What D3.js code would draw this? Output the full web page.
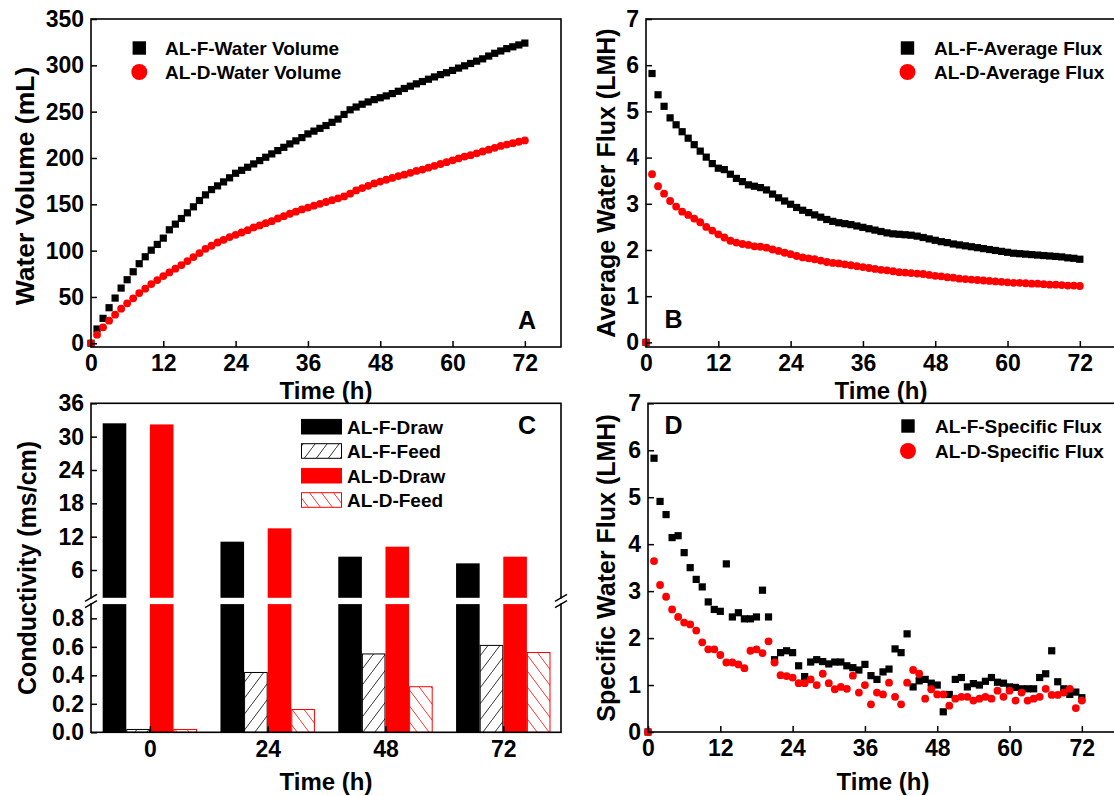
<!DOCTYPE html>
<html><head><meta charset="utf-8">
<script src="https://cdn.jsdelivr.net/npm/d3@7"></script>
<style>body{margin:0;background:#fff}svg{display:block}</style>
</head><body>
<svg id="c" width="1114" height="796"></svg>
<script>
// ---------- DATA ----------
const hours = d3.range(0, 73); // sampling times 0..72 h (hourly)
const volF = [0,15.4,26.9,38.4,48.8,59.6,68.6,77.2,85.9,93.4,100.5,106.7,113.5,122.5,128.6,134.7,140.8,147.3,154.1,160.2,165.9,169.9,174.2,178.6,183.5,186.7,190,193.6,197.2,200.8,204.4,208,211.5,215.2,218.5,222,226,229,232,235,238.5,242,247,252,255,258,260.5,263,265,267,269.5,272,275,277.5,280,282.5,285,287.5,290,292,294.5,297,299.5,302,304.5,307,310,313,315.5,318,320,322,324];
const volD = [0,9.3,17.2,24.4,30.9,37.4,43.1,48.5,54.2,58.9,63.9,68.2,72.5,76.5,80.5,84.4,88.7,93.0,97.3,102,105.3,108.8,111.7,114.6,117.1,119.6,122.1,125,127.2,129.6,131.8,134.7,137.2,139.8,142,144.5,146.5,148.5,150.5,152.5,154.5,156.5,158.5,161.5,165,167.5,170,172.5,174.5,176.5,178.5,180.5,182,184,186,187.5,189.5,191.5,193.5,195.5,197.5,199.5,201.5,203,205,207,209,211,213,214.5,216,217.5,219];
const avgF = [0,5.82,5.36,5.11,4.86,4.71,4.56,4.42,4.28,4.14,4.01,3.87,3.77,3.74,3.64,3.55,3.48,3.41,3.38,3.35,3.30,3.21,3.13,3.06,2.99,2.92,2.86,2.81,2.76,2.71,2.66,2.62,2.59,2.57,2.55,2.52,2.49,2.46,2.43,2.40,2.37,2.35,2.34,2.33,2.32,2.30,2.27,2.24,2.21,2.18,2.16,2.13,2.11,2.09,2.07,2.05,2.03,2.01,1.99,1.97,1.95,1.93,1.92,1.91,1.90,1.89,1.88,1.87,1.86,1.85,1.83,1.82,1.80];
const avgD = [0,3.64,3.38,3.22,3.06,2.94,2.83,2.76,2.68,2.60,2.50,2.42,2.34,2.27,2.20,2.16,2.13,2.11,2.08,2.07,2.05,2.01,1.98,1.94,1.91,1.87,1.84,1.82,1.80,1.77,1.74,1.72,1.71,1.69,1.67,1.65,1.63,1.61,1.59,1.57,1.56,1.54,1.52,1.51,1.50,1.49,1.48,1.46,1.44,1.43,1.41,1.40,1.38,1.37,1.36,1.35,1.34,1.33,1.32,1.31,1.30,1.29,1.29,1.28,1.27,1.27,1.26,1.25,1.25,1.24,1.23,1.23,1.22];
const specF = [0,5.83,4.91,4.63,4.14,4.18,3.82,3.50,3.25,3.09,2.77,2.61,2.57,3.58,2.45,2.54,2.41,2.41,2.45,3.02,2.45,1.54,1.69,1.73,1.69,1.41,1.18,1.49,1.54,1.50,1.45,1.49,1.49,1.41,1.37,1.32,1.44,1.20,1.12,1.28,1.34,1.77,1.69,2.09,0.96,1.09,1.12,1.04,1.00,0.43,0.80,1.12,1.16,0.96,1.03,1.00,1.08,1.16,1.06,1.04,0.96,0.95,0.92,0.92,0.92,1.16,1.24,1.73,1.07,0.92,0.80,0.85,0.73];
const specD = [0,3.64,3.13,2.88,2.61,2.45,2.33,2.29,2.16,1.91,1.76,1.76,1.64,1.48,1.48,1.44,1.36,1.73,1.76,1.68,1.93,1.48,1.21,1.19,1.16,1.04,1.04,1.12,1.00,1.24,1.04,0.91,0.96,0.92,1.20,0.84,1.00,0.59,0.84,0.80,1.05,0.75,0.59,1.05,1.32,1.24,0.71,0.91,0.80,0.80,0.56,0.71,0.75,0.75,0.67,0.71,0.75,0.71,0.88,0.75,0.88,0.67,0.84,0.67,0.71,0.75,0.92,0.79,0.79,0.84,0.92,0.51,0.67];

const condTimes = [0, 24, 48, 72];
const condSeries = ["AL-F-Draw", "AL-F-Feed", "AL-D-Draw", "AL-D-Feed"];
const condFDraw = [32.4, 11.1, 8.4, 7.2];
const condFFeed = [0.02, 0.42, 0.55, 0.61];
const condDDraw = [32.2, 13.5, 10.2, 8.4];
const condDFeed = [0.02, 0.16, 0.32, 0.56];

const timeTicks = [0, 12, 24, 36, 48, 60, 72];
const volTicks = [0, 50, 100, 150, 200, 250, 300, 350];
const fluxTicks = [0, 1, 2, 3, 4, 5, 6, 7];
const condUpperTicks = [6, 12, 18, 24, 30, 36];
const condLowerTicks = [0.0, 0.2, 0.4, 0.6, 0.8];

// ---------- SETUP ----------
const svg = d3.select("#c");
const FONT = "'Liberation Sans', Arial, Helvetica, sans-serif";
const RED = "#ff0000";
const INT = d3.format("d");
svg.append("rect").attr("width",1114).attr("height",796).attr("fill","#fff");

const defs = svg.append("defs");
const p1 = defs.append("pattern").attr("id","hatchF").attr("patternUnits","userSpaceOnUse").attr("width",12).attr("height",16);
p1.append("rect").attr("width",12).attr("height",16).attr("fill","#fff");
p1.append("line").attr("x1",-3).attr("y1",20).attr("x2",15).attr("y2",-4).attr("stroke","#000").attr("stroke-width",0.8);
const p2 = defs.append("pattern").attr("id","hatchD").attr("patternUnits","userSpaceOnUse").attr("width",12).attr("height",16);
p2.append("rect").attr("width",12).attr("height",16).attr("fill","#fff");
p2.append("line").attr("x1",-3).attr("y1",-4).attr("x2",15).attr("y2",20).attr("stroke",RED).attr("stroke-width",0.8);

function styleAxis(g){
  g.attr("font-family", FONT).attr("font-size", 23).attr("font-weight","bold").attr("color","#000");
  g.select(".domain").remove();
  g.selectAll(".tick line").attr("stroke","#000").attr("stroke-width",1.5);
}
function frame(x0,x1,y0,y1){
  svg.append("rect").attr("x",x0).attr("y",y0).attr("width",x1-x0).attr("height",y1-y0)
    .attr("fill","none").attr("stroke","#000").attr("stroke-width",1.6);
}
function text(x,y,s,size,anchor,rot){
  const t = svg.append("text").attr("font-family",FONT).attr("font-weight","bold")
    .attr("font-size",size).attr("text-anchor",anchor||"start").text(s);
  if (rot) t.attr("transform",`translate(${x},${y}) rotate(-90)`); else t.attr("x",x).attr("y",y);
  return t;
}
function scatter(g, xs, ys, x, y, shape, color){
  const sel = g.append("g");
  if (shape === "sq") {
    sel.selectAll("rect").data(xs).join("rect")
      .attr("x",(d,i)=>x(d)-3.6).attr("y",(d,i)=>y(ys[i])-3.6)
      .attr("width",7.2).attr("height",7.2).attr("fill",color);
  } else {
    sel.selectAll("circle").data(xs).join("circle")
      .attr("cx",d=>x(d)).attr("cy",(d,i)=>y(ys[i])).attr("r",3.9).attr("fill",color);
  }
}
function legendPair(xSym, xText, y1, y2, l1, l2){
  svg.append("rect").attr("x",xSym-6.7).attr("y",y1-6.7).attr("width",13.4).attr("height",13.4).attr("fill","#000");
  svg.append("circle").attr("cx",xSym).attr("cy",y2).attr("r",8).attr("fill",RED);
  text(xText, y1+6.8, l1, 19);
  text(xText, y2+6.8, l2, 19);
}

// ---------- PANEL A ----------
{
  const x = d3.scaleLinear().domain([0,78]).range([91,561]);
  const y = d3.scaleLinear().domain([-4,350]).range([347,19]);
  const g = svg.append("g");
  scatter(g, hours, volF, x, y, "sq", "#000");
  scatter(g, hours, volD, x, y, "ci", RED);
  frame(91,561,19,347);
  svg.append("g").attr("transform","translate(0,347)").call(d3.axisBottom(x).tickValues(timeTicks).tickFormat(INT).tickSizeInner(-6).tickSizeOuter(0).tickPadding(8)).call(styleAxis);
  svg.append("g").attr("transform","translate(91,0)").call(d3.axisLeft(y).tickValues(volTicks).tickFormat(INT).tickSizeInner(-6).tickSizeOuter(0).tickPadding(7)).call(styleAxis);
  text(326, 399, "Time (h)", 24, "middle");
  text(34, 186, "Water Volume (mL)", 26.5, "middle", true);
  text(527, 329, "A", 25, "middle");
  legendPair(139.3, 165, 48, 72, "AL-F-Water Volume", "AL-D-Water Volume");
}

// ---------- PANEL B ----------
{
  const x = d3.scaleLinear().domain([0,78]).range([646,1116]);
  const y = d3.scaleLinear().domain([-0.1,7]).range([347,19]);
  const g = svg.append("g");
  scatter(g, hours, avgF, x, y, "sq", "#000");
  scatter(g, hours, avgD, x, y, "ci", RED);
  frame(646,1116,19,347);
  svg.append("g").attr("transform","translate(0,347)").call(d3.axisBottom(x).tickValues(timeTicks).tickFormat(INT).tickSizeInner(-6).tickSizeOuter(0).tickPadding(8)).call(styleAxis);
  svg.append("g").attr("transform","translate(646,0)").call(d3.axisLeft(y).tickValues(fluxTicks).tickFormat(INT).tickSizeInner(-6).tickSizeOuter(0).tickPadding(7)).call(styleAxis);
  text(881, 399, "Time (h)", 24, "middle");
  text(615, 183, "Average Water Flux (LMH)", 25, "middle", true);
  text(664.5, 328, "B", 25, "start");
  legendPair(907.5, 934, 48, 72, "AL-F-Average Flux", "AL-D-Average Flux");
}

// ---------- PANEL C ----------
{
  const x = d3.scaleLinear().domain([-12, 83.76]).range([91,561]);
  const yUp = d3.scaleLinear().domain([1,36]).range([597.8,403.3]);
  const yLo = d3.scaleLinear().domain([0,0.9]).range([732.3,604.1]);
  const bw = 4.81; // bar width in hours
  const g = svg.append("g");
  const series = [
    {vals: condFDraw, fill:"#000", stroke:"none", off:-2, draw:true},
    {vals: condFFeed, fill:"url(#hatchF)", stroke:"#000", off:-1, draw:false},
    {vals: condDDraw, fill:RED, stroke:"none", off:0, draw:true},
    {vals: condDFeed, fill:"url(#hatchD)", stroke:RED, off:1, draw:false}
  ];
  series.forEach(s=>{
    condTimes.forEach((t,i)=>{
      const v = s.vals[i];
      const xl = x(t + s.off*bw), xr = x(t + (s.off+1)*bw);
      if (s.draw) {
        g.append("rect").attr("x",xl).attr("width",xr-xl).attr("y",yLo(0.9)).attr("height",yLo(0)-yLo(0.9)).attr("fill",s.fill);
        g.append("rect").attr("x",xl).attr("width",xr-xl).attr("y",yUp(v)).attr("height",yUp(1)-yUp(v)).attr("fill",s.fill);
      } else {
        g.append("rect").attr("x",xl+0.5).attr("width",xr-xl-1).attr("y",yLo(v)).attr("height",yLo(0)-yLo(v))
          .attr("fill",s.fill).attr("stroke",s.stroke).attr("stroke-width",1);
      }
    });
  });
  frame(91,561,403.3,732.3);
  svg.append("rect").attr("x",88).attr("y",598.6).attr("width",6).attr("height",4.7).attr("fill","#fff");
  svg.append("rect").attr("x",558).attr("y",598.6).attr("width",6).attr("height",4.7).attr("fill","#fff");
  [91,561].forEach(bx=>{
    [597.8,604.1].forEach(by=>{
      svg.append("line").attr("x1",bx-6).attr("y1",by+3.5).attr("x2",bx+6).attr("y2",by-3.5).attr("stroke","#000").attr("stroke-width",1.5);
    });
  });
  svg.append("g").attr("transform","translate(0,732.3)").call(d3.axisBottom(x).tickValues(condTimes).tickFormat(INT).tickSizeInner(-6).tickSizeOuter(0).tickPadding(8)).call(styleAxis);
  svg.append("g").attr("transform","translate(91,0)").call(d3.axisLeft(yUp).tickValues(condUpperTicks).tickFormat(INT).tickSizeInner(-6).tickSizeOuter(0).tickPadding(7)).call(styleAxis);
  svg.append("g").attr("transform","translate(91,0)").call(d3.axisLeft(yLo).tickValues(condLowerTicks).tickFormat(d3.format(".1f")).tickSizeInner(-6).tickSizeOuter(0).tickPadding(7)).call(styleAxis);
  text(326, 790, "Time (h)", 24, "middle");
  text(36, 568, "Conductivity (ms/cm)", 25, "middle", true);
  text(527, 434, "C", 25, "middle");
  const lf = [
    {fill:"#000", stroke:"#000"},
    {fill:"url(#hatchF)", stroke:"#000"},
    {fill:RED, stroke:RED},
    {fill:"url(#hatchD)", stroke:RED}
  ];
  const ly = [426.7, 451, 475.7, 500];
  condSeries.forEach((name,i)=>{
    svg.append("rect").attr("x",301.5).attr("y",ly[i]-7.3).attr("width",40).attr("height",14.6)
      .attr("fill",lf[i].fill).attr("stroke",lf[i].stroke).attr("stroke-width",1);
    text(347, ly[i]+6.8, name, 19);
  });
}

// ---------- PANEL D ----------
{
  const x = d3.scaleLinear().domain([0,78]).range([648,1118]);
  const y = d3.scaleLinear().domain([0,7]).range([732,403.3]);
  const g = svg.append("g");
  scatter(g, hours, specF, x, y, "sq", "#000");
  scatter(g, hours, specD, x, y, "ci", RED);
  frame(648,1118,403.3,732);
  svg.append("g").attr("transform","translate(0,732)").call(d3.axisBottom(x).tickValues(timeTicks).tickFormat(INT).tickSizeInner(-6).tickSizeOuter(0).tickPadding(8)).call(styleAxis);
  svg.append("g").attr("transform","translate(648,0)").call(d3.axisLeft(y).tickValues(fluxTicks).tickFormat(INT).tickSizeInner(-6).tickSizeOuter(0).tickPadding(7)).call(styleAxis);
  text(883, 790, "Time (h)", 24, "middle");
  text(615, 568, "Specific Water Flux (LMH)", 25, "middle", true);
  text(664.5, 434, "D", 25, "start");
  legendPair(908, 935, 426, 451, "AL-F-Specific Flux", "AL-D-Specific Flux");
}
</script>
</body></html>
